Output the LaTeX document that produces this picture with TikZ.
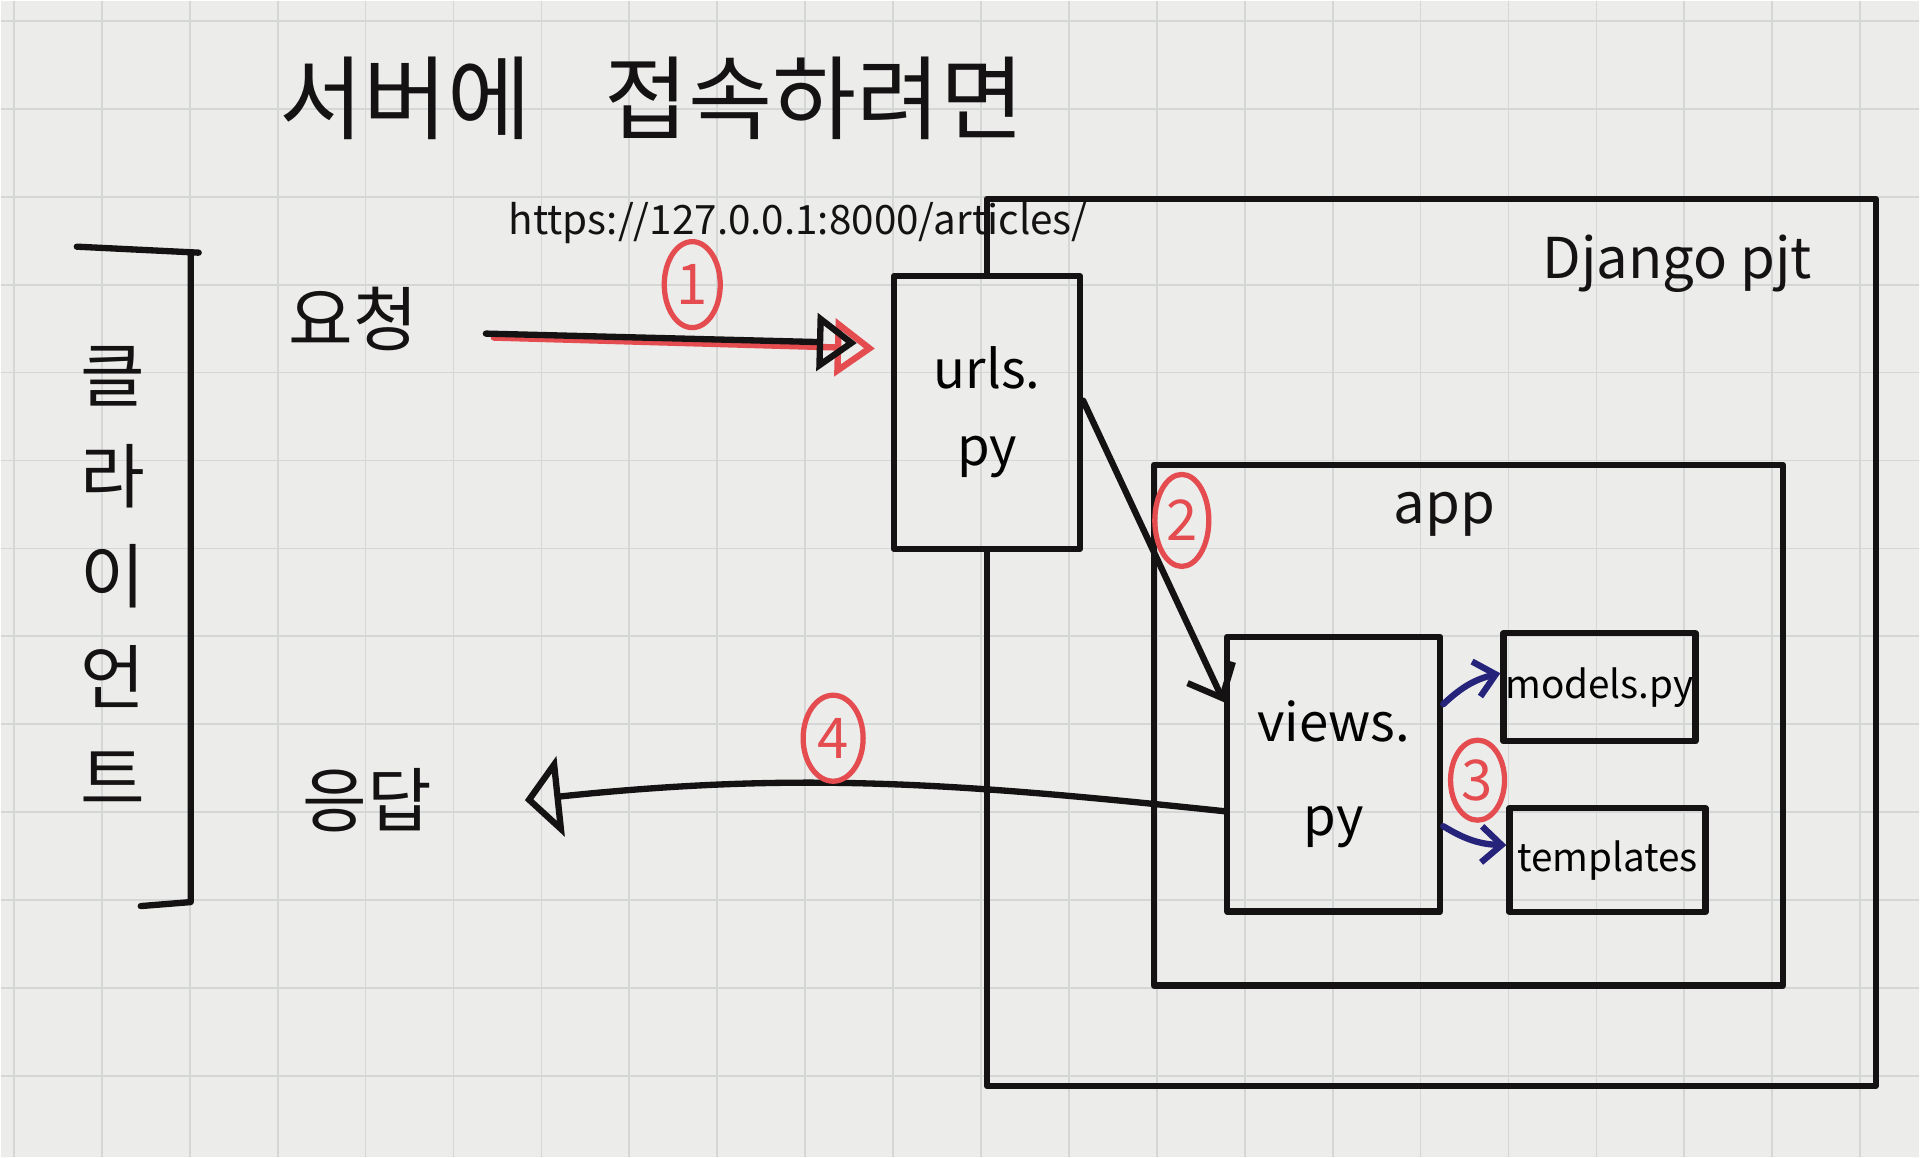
\documentclass[tikz,border=0pt]{standalone}
\usepackage{fontspec}
\setmainfont{Noto Sans CJK KR}
\usepackage{tikz}
\usetikzlibrary{arrows.meta}
\usetikzlibrary{shapes.geometric}

\definecolor{paper}{RGB}{236,236,235}
\definecolor{gridline}{RGB}{213,214,214}
\definecolor{ink}{RGB}{20,18,18}
\definecolor{marker}{RGB}{228,76,80}
\definecolor{bluepen}{RGB}{38,36,122}

\begin{document}
\begin{tikzpicture}[x=0.01cm,y=-0.01cm,
  pen/.style={draw=ink,line width=1.8pt,line cap=round,line join=round},
  box/.style={pen,rectangle,inner sep=0pt},
  region/.style={rectangle,inner sep=0pt},
  handtext/.style={inner sep=0pt,text=ink},
  numbered/.style={draw=marker,line width=1.5pt,ellipse,inner sep=0pt,
    text=marker,font=\fontsize{16}{16}\selectfont},
  request/.style={pen,-{Triangle[open,length=0.4cm,width=0.57cm]}},
  reply/.style={pen,-{Triangle[open,length=0.36cm,width=0.8cm]}},
  call/.style={pen,-{Straight Barb[length=0.28cm,width=0.5cm]}},
  bluecall/.style={pen,draw=bluepen,-{Straight Barb[length=0.2cm,width=0.36cm]}}]

% paper
\fill[paper] (0,0) rectangle (1920,1157);
\foreach \gx in {13,101,...,1920}
  \draw[gridline,line width=0.5pt] (\gx,0) -- (\gx,1157);
\foreach \gy in {20,108,...,1157}
  \draw[gridline,line width=0.5pt] (0,\gy) -- (1920,\gy);
\useasboundingbox (0,0) rectangle (1920,1157);

\node[handtext,font=\fontsize{26}{30}\selectfont] (title) at (652,98) {서버에\hspace{0.8em}접속하려면};
\node[handtext,font=\fontsize{11.5}{13}\selectfont] (url) at (798,222) {https://127.0.0.1:8000/articles/};

% client side
\node[handtext,align=center,font=\fontsize{20}{28.7}\selectfont] (client) at (112,575) {클\\라\\이\\언\\트};
\draw[pen] (76,246) -- (198,252) (190,252) -- (190,902) -- (140,906);
\node[handtext,font=\fontsize{20}{24}\selectfont] (req) at (353,318) {요청};
\node[handtext,font=\fontsize{20}{24}\selectfont] (resp) at (367,800) {응답};

% server side
\node[box,align=center,font=\fontsize{15}{22}\selectfont,
  minimum width=1.86cm,minimum height=2.73cm] (urls) at (987,412) {urls.\\py};
\node[region,minimum width=8.89cm,minimum height=8.86cm] (django) at (1431,642) {};
\draw[pen] (urls.north) |- (django.north east) |- (urls.south |- django.south) -- (urls.south);
\node[handtext,font=\fontsize{16}{18}\selectfont] (djangolabel) at (1678,263) {Django pjt};

\node[box,minimum width=6.29cm,minimum height=5.21cm] (app) at (1469,725) {};
\node[handtext,font=\fontsize{16}{18}\selectfont] (applabel) at (1445,514) {app};
\node[box,align=center,font=\fontsize{15}{27}\selectfont,
  minimum width=2.13cm,minimum height=2.75cm] (views) at (1334,774) {views.\\py};
\node[box,font=\fontsize{11}{13}\selectfont,
  minimum width=1.92cm,minimum height=1.08cm] (models) at (1600,687) {models.py};
\node[box,font=\fontsize{11}{13}\selectfont,
  minimum width=1.96cm,minimum height=1.04cm] (templates) at (1608,860) {templates};

% flow
\draw[request,draw=marker] ([xshift=0.75cm,yshift=-0.19cm]req.east) -- ([xshift=-0.16cm,yshift=0.64cm]urls.west);
\draw[request] ([xshift=0.67cm,yshift=-0.15cm]req.east) -- ([xshift=-0.34cm,yshift=0.695cm]urls.west);
\draw[call] ([yshift=0.12cm]urls.east) -- ([yshift=0.72cm]views.west);
\draw[bluecall] ([yshift=0.7cm]views.east) to[bend left=15] ([yshift=0.14cm]models.west);
\draw[bluecall] ([yshift=-0.52cm]views.east) to[bend right=15] ([yshift=0.15cm]templates.west);
\draw[reply] ([yshift=-0.37cm]views.west) to[out=174,in=6] ([xshift=0.92cm]resp.east);

% steps
\node[numbered,minimum width=0.56cm,minimum height=0.86cm] (step1) at (692,284) {1};
\node[numbered,minimum width=0.54cm,minimum height=0.92cm] (step2) at (1182,520) {2};
\node[numbered,minimum width=0.54cm,minimum height=0.8cm] (step3) at (1478,780) {3};
\node[numbered,minimum width=0.6cm,minimum height=0.86cm] (step4) at (833,738) {4};
\end{tikzpicture}
\end{document}
